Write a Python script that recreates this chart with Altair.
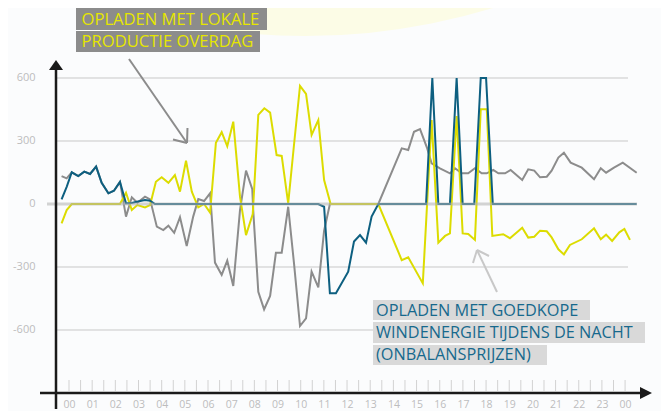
import altair as alt
import pandas as pd

# ---------------- data (hours of the day, values) ----------------
BLUE_H = [-0.32, -0.10, 0.12, 0.40, 0.66, 0.91, 1.17, 1.41, 1.70, 1.94, 2.20, 2.46,
          2.71, 2.93, 3.28, 3.50, 3.71, 10.76, 11.01, 11.26, 11.52, 12.05, 12.30,
          12.56, 12.82, 13.06, 13.35, 15.41, 15.68, 15.94, 16.44, 16.73, 16.99,
          17.49, 17.77, 18.00, 18.29, 24.50]
BLUE_V = [22, 82, 151, 133, 154, 143, 178, 101, 51, 63, 105, 3,
          5, 11, 19, 16, 0, 0, -13, -425, -425, -322, -179,
          -148, -184, -60, 0, 0, 600, 0, 0, 600, 0,
          0, 600, 600, 0, 0]

GRAY_H = [-0.32, -0.10, 0.12, 0.40, 0.66, 0.91, 1.17, 1.41, 1.70, 1.94, 2.20, 2.46,
          2.71, 2.95, 3.28, 3.50, 3.79, 4.07, 4.29, 4.54, 4.79, 5.08, 5.36, 5.58,
          5.83, 6.09, 6.30, 6.59, 6.83, 7.09, 7.38, 7.64, 7.91, 7.95, 8.17, 8.42,
          8.68, 8.93, 9.18, 9.46, 9.71, 9.97, 10.23, 10.47, 10.76, 11.01, 11.26,
          13.35, 14.36, 14.64, 14.89, 15.15, 15.46, 15.65, 16.01, 16.44, 16.66,
          16.95, 17.23, 17.52, 17.81, 18.03, 18.31, 18.53, 18.82, 19.06, 19.56,
          19.82, 20.08, 20.33, 20.62, 20.83, 21.12, 21.36, 21.65, 22.13, 22.66,
          22.95, 23.18, 23.52, 23.90, 24.50]
GRAY_V = [133, 122, 151, 133, 154, 143, 178, 101, 51, 63, 105, -60,
          32, 6, 35, 22, -108, -124, -103, -137, -63, -200, -60, 24,
          14, 51, -279, -338, -270, -390, -29, 159, 70, -29, -418, -502,
          -438, -232, -232, -13, -282, -581, -545, -322, -397, -127, 0,
          0, 265, 257, 344, 357, 265, 194, 170, 146, 170,
          146, 146, 170, 146, 146, 162, 146, 146, 162, 114,
          165, 159, 127, 130, 159, 221, 244, 197, 173, 118,
          170, 149, 173, 197, 149]

YELLOW_H = [-0.32, -0.10, 0.12, 2.20, 2.46, 2.71, 2.95, 3.28, 3.50, 3.75, 4.00, 4.29,
            4.57, 4.79, 5.05, 5.30, 5.58, 5.83, 6.09, 6.34, 6.59, 6.83, 7.09, 7.38,
            7.64, 7.93, 8.17, 8.43, 8.68, 8.96, 9.18, 9.46, 9.71, 9.97, 10.23, 10.47,
            10.76, 11.01, 11.29, 13.35, 14.36, 14.64, 15.27, 15.65, 15.94, 16.23,
            16.44, 16.73, 16.99, 17.23, 17.52, 17.77, 18.03, 18.27, 18.74, 19.03,
            19.56, 19.82, 20.08, 20.33, 20.62, 20.83, 21.12, 21.36, 21.62, 22.13,
            22.66, 22.95, 23.18, 23.44, 23.75, 23.97, 24.21]
YELLOW_V = [-92, -29, 0, 0, 54, -29, -5, -16, -5, 106, 127, 101,
            138, 59, 206, 59, -16, 0, -41, 292, 342, 275, 392, 35,
            -148, -48, 424, 456, 435, 233, 229, 3, 281, 562, 524, 329,
            400, 114, 0, 0, -267, -254, -378, 400, -184, -152,
            -140, 419, -140, -143, -171, 451, 451, -152, -144, -163,
            -113, -160, -156, -127, -130, -159, -216, -240, -195, -168,
            -116, -168, -146, -176, -135, -119, -171]

Y_LABELS = [600, 300, 0, -300, -600]
GRID_VALUES = [600, 300, -300, -600]
HOUR_LABELS = list(range(0, 25))
MINOR_TICKS = [i * 0.5 for i in range(0, 49)]

TOP_NOTE = ["OPLADEN MET LOKALE", "PRODUCTIE OVERDAG"]
BOTTOM_NOTE = ["OPLADEN MET GOEDKOPE", "WINDENERGIE TIJDENS DE NACHT", "(ONBALANSPRIJZEN)"]

# ---------------- styling ----------------
FONT = "Open Sans"
C_BLUE = "#0d5f80"
C_GRAY = "#8c8c8c"
C_YELLOW = "#dcdc00"
C_LABEL = "#bdbdbd"

x_scale = alt.Scale(domain=[-0.561, 25.075], nice=False, zero=False)
y_scale = alt.Scale(domain=[-900, 685.7], nice=False, zero=False)

x_axis = alt.Axis(values=HOUR_LABELS, labelExpr="format(datum.value % 24, '02d')",
                  domain=False, ticks=False, tickSize=0, grid=False, title=None,
                  labelColor=C_LABEL, labelFont=FONT, labelFontSize=10.5,
                  labelPadding=6, labelFlush=False)
y_axis = alt.Axis(values=Y_LABELS, labelExpr="'' + datum.value",
                  domain=False, ticks=False, tickSize=0, grid=False, title=None,
                  labelColor=C_LABEL, labelFont=FONT, labelFontSize=11,
                  labelPadding=21, labelFlush=False)

X = alt.X("h:Q", scale=x_scale, axis=x_axis)
Y = alt.Y("v:Q", scale=y_scale, axis=y_axis)

one = pd.DataFrame({"k": [0]})


def seg(x1, y1, x2, y2, color, width):
    return alt.Chart(one).mark_rule(color=color, strokeWidth=width, strokeCap="butt").encode(
        x=alt.value(x1), y=alt.value(y1), x2=alt.value(x2), y2=alt.value(y2))


def series(hs, vs, color):
    df = pd.DataFrame({"h": hs, "v": vs})
    return alt.Chart(df).mark_line(color=color, strokeWidth=2, strokeJoin="miter",
                                   clip=False).encode(x=X, y=Y)


# faint sun shape in the background
sun = alt.Chart(one).mark_point(shape="circle", filled=True, color="#fcfce6", opacity=1,
                                size=1296 * 1296).encode(x=alt.value(249), y=alt.value(-672))

grid = alt.Chart(pd.DataFrame({"v": GRID_VALUES})).mark_rule(
    color="#c8c8c8", strokeWidth=1).encode(y=Y, x=alt.value(1), x2=alt.value(572))

ticks = alt.Chart(pd.DataFrame({"h": MINOR_TICKS})).mark_rule(
    color="#d2d2d2", strokeWidth=1).encode(x=X, y=alt.value(320), y2=alt.value(331))

gray_line = series(GRAY_H, GRAY_V, C_GRAY)
yellow_line = series(YELLOW_H, YELLOW_V, C_YELLOW)
blue_line = series(BLUE_H, BLUE_V, C_BLUE)

zero = alt.Chart(one).mark_rule(color="#b0b0b0", strokeWidth=3, opacity=0.55).encode(
    y=alt.datum(0, scale=y_scale), x=alt.value(-9), x2=alt.value(581))

# axes with arrows
y_axis_line = seg(0, 8, 0, 349, "#1a1a1a", 2.5)
x_axis_line = seg(-16, 333, 586, 333, "#1a1a1a", 2.5)
up_arrow = alt.Chart(one).mark_point(shape="M-1,0.72L0,-0.72L1,0.72Z", filled=True,
                                     color="#1a1a1a", opacity=1, size=196).encode(
    x=alt.value(0), y=alt.value(5))
right_arrow = alt.Chart(one).mark_point(shape="M-1,-1L1,0L-1,1Z", filled=True,
                                        color="#1a1a1a", opacity=1, size=144).encode(
    x=alt.value(590), y=alt.value(333))

# annotation arrows
arrow1 = (seg(73, -1, 131, 83, C_GRAY, 2) + seg(131, 83, 131.5, 68, C_GRAY, 2)
          + seg(131, 83, 117, 79.5, C_GRAY, 2))
arrow2 = (seg(441, 232, 421, 190, "#c8c8c8", 2) + seg(421, 190, 417, 203, "#c8c8c8", 2)
          + seg(421, 190, 433, 196, "#c8c8c8", 2))


def box(x1, x2, y1, y2, color):
    return alt.Chart(one).mark_rect(color=color, opacity=1).encode(
        x=alt.value(x1), x2=alt.value(x2), y=alt.value(y1), y2=alt.value(y2))


def label(txt, x, y, color, size):
    return alt.Chart(one).mark_text(text=txt, align="left", baseline="middle", font=FONT,
                                    fontSize=size, color=color).encode(
        x=alt.value(x), y=alt.value(y))


top_boxes = (box(20, 211, -52, -30, C_GRAY) + box(20, 204, -29, -8, C_GRAY)
             + label(TOP_NOTE[0], 25.5, -40.5, "#e6e600", 16.6)
             + label(TOP_NOTE[1], 25.5, -18.5, "#e6e600", 16.6))

bottom_boxes = (box(317, 534, 240, 260, "#d9d9d9") + box(317, 589, 262, 283, "#d9d9d9")
                + box(317, 491, 285, 305, "#d9d9d9")
                + label(BOTTOM_NOTE[0], 320, 250.5, "#17698d", 16.3)
                + label(BOTTOM_NOTE[1], 320, 272.5, "#17698d", 16.3)
                + label(BOTTOM_NOTE[2], 320, 294.5, "#17698d", 16.3))

chart = alt.layer(
    sun, grid, ticks, gray_line, yellow_line, blue_line, zero,
    y_axis_line, x_axis_line, up_arrow, right_arrow,
    arrow1, arrow2, top_boxes, bottom_boxes
).properties(
    width=594, height=333,
    autosize=alt.AutoSizeParams(type="none"),
    padding={"left": 48, "top": 52, "right": 11, "bottom": 20},
    background="#fbfcfd",
).configure_view(stroke=None)

chart.save("out.html", embed_options={"renderer": "svg", "actions": False})
